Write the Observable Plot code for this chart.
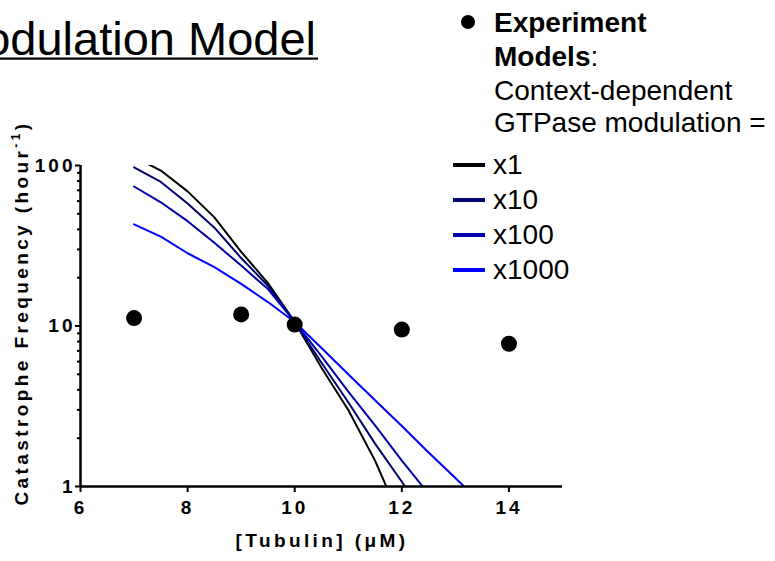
<!DOCTYPE html>
<html><head><meta charset="utf-8">
<script src="https://cdn.jsdelivr.net/npm/d3@7"></script>
<script src="https://cdn.jsdelivr.net/npm/@observablehq/plot@0.6"></script>
<style>
html,body{margin:0;padding:0;background:#fff;overflow:hidden}
#chart{position:relative;width:775px;height:561px}
#chart svg g[aria-label="x-axis tick label"] text,
#chart svg g[aria-label="y-axis tick label"] text{letter-spacing:3px;font-size:19px;font-weight:bold}
</style></head><body><div id="chart"></div>
<script>
// Experimental data
const expTubulin = [7, 9, 10, 12, 14];
const expFreq = [11.2, 11.8, 10.2, 9.5, 7.75];

// Model curves (Context-dependent GTPase modulation)
const modelTubulin = [7, 7.5, 8, 8.5, 9, 9.5, 10, 10.5, 11, 11.5, 12, 12.5, 13, 13.5];
const modelX1    = [113, 93, 69, 47.5, 29, 18.5, 10.6, 5.5, 3.0, 1.45, 0.6];
const modelX10   = [97.5, 79, 58, 41, 26.5, 17.8, 10.6, 5.9, 3.35, 1.85, 1.07, 0.6];
const modelX100  = [74, 59, 45, 33, 23.8, 17, 10.6, 6.5, 3.9, 2.4, 1.45, 0.9];
const modelX1000 = [43, 36, 28.4, 23.3, 18.3, 14.1, 10.6, 7.3, 5.0, 3.45, 2.38, 1.63, 1.13, 0.78];

const seriesNames = ["x1", "x10", "x100", "x1000"];
const seriesColors = ["#000000", "#000070", "#0000a8", "#0000ff"];
const seriesValues = [modelX1, modelX10, modelX100, modelX1000];

const xTicks = [6, 8, 10, 12, 14];
const yTicks = [1, 10, 100];
const yMinorTicks = [2, 3, 4, 5, 6, 7, 8, 9, 20, 30, 40, 50, 60, 70, 80, 90];

const legendHeader = ["Experiment", "Models", "Context-dependent", "GTPase modulation ="];
const titleText = "Modulation Model";

const expRows = expTubulin.map((t, i) => ({t, f: expFreq[i]}));
const modelRows = seriesNames.flatMap((s, k) =>
  seriesValues[k].map((f, i) => ({series: s, t: modelTubulin[i], f})));

const FONT = "'Liberation Sans', Arial, sans-serif";

const plot = Plot.plot({
  width: 775, height: 561,
  marginLeft: 80, marginRight: 213, marginTop: 165, marginBottom: 75,
  style: {fontFamily: FONT, background: "#fff", color: "#000"},
  x: {domain: [6, 15]},
  y: {type: "log", domain: [1, 100]},
  color: {domain: seriesNames, range: seriesColors},
  marks: [
    Plot.line(modelRows, {x: "t", y: "f", z: "series", stroke: "series", strokeWidth: 2, clip: true}),
    Plot.dot(expRows, {x: "t", y: "f", r: 8, fill: "#000", stroke: "none"}),
    Plot.axisY({ticks: yMinorTicks, tickSize: 3, strokeWidth: 2, tickFormat: () => "", label: null}),
    Plot.axisY({ticks: yTicks, tickSize: 5, tickPadding: 0, strokeWidth: 2, fontSize: 19, fontWeight: "bold", tickFormat: d => String(d), label: null}),
    Plot.axisX({ticks: xTicks, tickSize: 6, tickPadding: 8, strokeWidth: 2, fontSize: 19, fontWeight: "bold", tickFormat: d => String(d), label: null}),
    Plot.ruleX([6], {strokeWidth: 2.5}),
    Plot.ruleY([1], {strokeWidth: 2.5})
  ]
});

document.getElementById("chart").appendChild(plot);
const svg = d3.select(plot);

// Axis titles
const yl = svg.append("text")
  .attr("transform", "translate(28,313) rotate(-90)")
  .attr("text-anchor", "middle")
  .attr("font-family", FONT).attr("font-weight", "bold").attr("font-size", 19)
  .attr("letter-spacing", "3.4px").attr("fill", "#000");
yl.append("tspan").text("Catastrophe Frequency (hour");
yl.append("tspan").attr("font-size", 12).attr("dy", -8).text("-1");
yl.append("tspan").attr("dy", 8).text(")");

svg.append("text")
  .attr("x", 322).attr("y", 547)
  .attr("text-anchor", "middle")
  .attr("font-family", FONT).attr("font-weight", "bold").attr("font-size", 19)
  .attr("letter-spacing", "3.4px").attr("fill", "#000")
  .text("[Tubulin] (μM)");

// Title (clipped at left edge like the reference)
svg.append("text")
  .attr("x", 316).attr("y", 55).attr("text-anchor", "end")
  .attr("font-family", FONT).attr("font-size", 47).attr("fill", "#000")
  .text(titleText);
svg.append("rect").attr("x", 0).attr("y", 57.5).attr("width", 318).attr("height", 2.2).attr("fill", "#000");

// Legend
const LX = 494, FS = 28;
const leg = svg.append("g").attr("text-anchor", "start").attr("font-family", FONT).attr("font-size", FS).attr("fill", "#000");
leg.append("circle").attr("cx", 468).attr("cy", 22).attr("r", 7).attr("fill", "#000");
leg.append("text").attr("x", LX).attr("y", 32).attr("font-weight", "bold").text(legendHeader[0]);
const m = leg.append("text").attr("x", LX).attr("y", 66);
m.append("tspan").attr("font-weight", "bold").text(legendHeader[1]);
m.append("tspan").text(":");
leg.append("text").attr("x", LX).attr("y", 100).text(legendHeader[2]);
leg.append("text").attr("x", LX).attr("y", 132).text(legendHeader[3]);

seriesNames.forEach((s, i) => {
  const y = 165 + i * 35;
  leg.append("line").attr("x1", 453).attr("x2", 485).attr("y1", y).attr("y2", y)
    .attr("stroke", seriesColors[i]).attr("stroke-width", 4);
  leg.append("text").attr("x", 493).attr("y", y + 9).text(s);
});
</script></body></html>
